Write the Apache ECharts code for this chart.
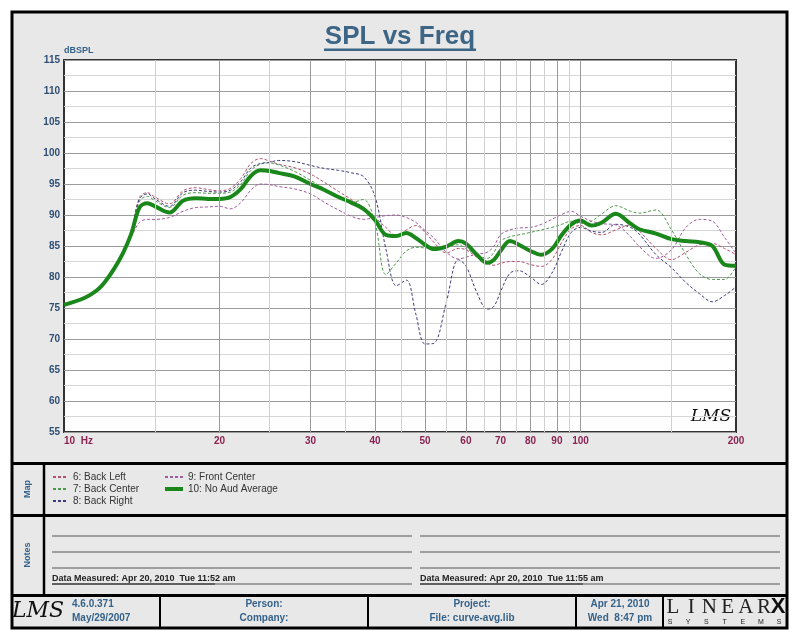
<!DOCTYPE html>
<html>
<head>
<meta charset="utf-8">
<script src="https://cdn.jsdelivr.net/npm/echarts@6/dist/echarts.min.js"></script>
<style>
html,body{margin:0;padding:0;background:#fff;}
#chart{width:800px;height:640px;}
</style>
</head>
<body>
<div id="chart"></div>
<script>
// ---- data ----
var freqs = [10, 11, 11.6, 12, 12.5, 13, 13.5, 14, 14.5, 15, 16, 17, 18, 19, 20, 21, 22, 23, 24, 25, 26, 28, 30, 32, 34, 36, 38, 40, 42, 44, 46, 48, 50, 52, 55, 58, 60, 63, 66, 68, 70, 73, 76, 80, 84, 88, 92, 96, 100, 105, 110, 117, 125, 130, 140, 150, 160, 170, 180, 190, 200];

var backLeft = [75.5, 76.7, 77.9, 79.2, 81.3, 83.8, 87.3, 92.8, 93.6, 92.9,
  91.8, 93.9, 94.4, 94.1, 93.9, 94.3, 95.9, 98.3, 99.1, 98.7,
  98.2, 97.6, 96.6, 95.2, 93.8, 92.5, 91.2, 89.6, 88.0, 86.6,
  87.6, 88.3, 87.2, 85.6, 83.9, 84.6, 84.4, 83.2, 82.2, 81.9,
  82.2, 82.5, 82.5, 82.0, 81.7, 82.8, 85.6, 87.8, 88.3, 87.2,
  86.8, 87.6, 88.4, 87.4, 84.6, 82.8, 84.0, 85.2, 85.4, 84.6,
  83.6];

var backCenter = [75.5, 76.7, 77.9, 79.2, 81.3, 83.8, 87.2, 92.2, 93.0, 92.3,
  91.2, 93.2, 93.6, 93.5, 93.5, 93.7, 95.0, 97.2, 98.2, 98.4,
  98.1, 97.0, 95.6, 94.2, 92.8, 92.0, 92.5, 88.8, 80.4, 82.3,
  84.2, 84.8, 84.7, 84.7, 84.9, 85.2, 84.6, 83.6, 83.0, 84.0,
  85.8, 86.5, 86.8, 87.2, 87.6, 88.0, 88.5, 89.0, 88.6, 89.0,
  90.2, 91.5, 90.6, 90.3, 90.8, 87.6, 83.6, 80.5, 79.6, 79.6,
  81.7];

var backRight = [75.5, 76.7, 77.9, 79.2, 81.3, 83.8, 87.3, 92.6, 93.4, 92.6,
  91.4, 93.6, 94.0, 93.8, 93.7, 94.0, 95.4, 97.6, 98.3, 98.5,
  98.8, 98.6, 98.0, 97.5, 97.2, 96.8, 96.2, 93.0, 84.5, 78.6,
  79.5, 74.0, 69.2, 69.3, 76.0, 82.8, 81.8, 77.5, 74.8, 75.3,
  77.6, 80.6, 81.0, 80.0, 78.8, 80.6, 84.2, 87.2, 88.0, 87.4,
  87.2, 88.5, 88.0, 86.9, 83.6, 81.5, 79.1, 77.3, 76.0, 77.0,
  78.4];

var frontCenter = [75.5, 76.7, 77.9, 79.2, 81.3, 83.8, 86.5, 88.8, 89.3, 89.3,
  89.6, 90.6, 91.2, 91.3, 91.4, 91.0, 92.0, 94.0, 95.0, 94.9,
  94.6, 94.2, 93.4, 92.0, 90.8, 89.8, 89.3, 89.6, 89.9, 90.0,
  89.6, 88.8, 87.5, 86.3, 84.0, 82.9, 83.2, 83.7, 84.0, 85.0,
  86.8, 87.6, 87.9, 88.0, 88.5, 89.3, 90.1, 90.6, 89.8, 89.0,
  88.6, 88.4, 86.5, 84.9, 83.0, 84.4, 88.0, 89.3, 89.0, 86.4,
  83.8];

var noAudAverage = [75.5, 76.7, 77.9, 79.2, 81.3, 83.8, 87.0, 91.2, 91.9, 91.4,
  90.4, 92.3, 92.7, 92.6, 92.6, 92.9, 94.2, 96.3, 97.2, 97.1,
  96.8, 96.2, 95.0, 94.0, 92.9, 92.0, 91.0, 89.2, 86.8, 86.6,
  87.1, 86.3, 85.2, 84.5, 84.9, 85.8, 85.4, 83.6, 82.3, 82.8,
  84.2, 85.8, 85.2, 84.2, 83.6, 84.5, 86.8, 88.5, 89.1, 88.3,
  88.8, 90.2, 88.6, 87.7, 87.0, 86.1, 85.8, 85.6, 85.0, 82.0,
  81.8];

var seriesNames = ['6: Back Left', '7: Back Center', '8: Back Right', '9: Front Center', '10: No Aud Average'];
var xTickLabels = [10, 20, 30, 40, 50, 60, 70, 80, 90, 100, 200];
var xMajorGrid = [20, 30, 40, 50, 60, 70, 80, 90, 100];
var xMinorGrid = [15, 25, 35, 45, 55, 65, 75, 85, 95, 150];
var yMin = 55, yMax = 115, yStep = 5;

function pairs(vals) { return freqs.map(function (f, i) { return [f, vals[i]]; }); }

var blue = '#35628a';
var labelFont = 'Liberation Sans';

function dashed(name, vals, color) {
  return {
    name: name, type: 'line', data: pairs(vals), symbol: 'none', smooth: 0.35,
    lineStyle: { width: 1, type: [3, 2], color: color }, itemStyle: { color: color }, z: 3
  };
}

var gridLines = xMajorGrid.map(function (v) { return { xAxis: v, lineStyle: { color: '#9a9a9a', width: 1, type: 'solid' } }; })
  .concat(xMinorGrid.map(function (v) { return { xAxis: v, lineStyle: { color: '#d0d0d0', width: 1, type: 'solid' } }; }));

// decorations
var g = [];
g.push({ type: 'rect', z: -10, shape: { x: 12, y: 12, width: 775, height: 616 }, style: { fill: '#e8e8e8', stroke: '#000', lineWidth: 3 } });
g.push({ type: 'text', style: { text: 'SPL vs Freq', x: 400, y: 37, textAlign: 'center', textVerticalAlign: 'middle', font: 'bold 26px "Liberation Sans"', fill: '#3d6585' } });
g.push({ type: 'rect', shape: { x: 324, y: 48.5, width: 152, height: 2.5 }, style: { fill: '#3d6585' } });
g.push({ type: 'text', style: { text: 'LMS', x: 711, y: 417, textAlign: 'center', textVerticalAlign: 'middle', font: 'italic 17px "DejaVu Serif"', fill: '#111' } });
function hline(y, x1, x2, w, c) { g.push({ type: 'line', shape: { x1: x1, y1: y, x2: x2, y2: y }, style: { stroke: c || '#000', lineWidth: w } }); }
function vline(x, y1, y2, w) { g.push({ type: 'line', shape: { x1: x, y1: y1, x2: x, y2: y2 }, style: { stroke: '#000', lineWidth: w } }); }
hline(463.5, 12, 787, 3);
hline(515.5, 12, 787, 3);
hline(595.5, 12, 787, 3);
vline(44, 463, 595, 2.5);
[160, 368, 576, 663].forEach(function (x) { vline(x, 595, 628, 2); });
[536, 552, 568].forEach(function (y) { hline(y, 52, 412, 1, '#555'); hline(y, 420, 780, 1, '#555'); });
hline(584, 52, 412, 1, '#555'); hline(584, 420, 780, 1, '#555');
function txt(t, x, y, font, fill, align, rot) {
  g.push({ type: 'text', x: x, y: y, rotation: rot || 0, style: { text: t, x: 0, y: 0, textAlign: align || 'left', textVerticalAlign: 'middle', font: font, fill: fill } });
}
txt('Map', 28, 489, 'bold 9px "Liberation Sans"', blue, 'center', Math.PI / 2);
txt('Notes', 28, 555, 'bold 9px "Liberation Sans"', blue, 'center', Math.PI / 2);
txt('Data Measured: Apr 20, 2010  Tue 11:52 am', 52, 579, 'bold 9px "Liberation Sans"', '#222');
txt('Data Measured: Apr 20, 2010  Tue 11:55 am', 420, 579, 'bold 9px "Liberation Sans"', '#222');
hline(584, 52, 215, 1, '#222'); hline(584, 420, 583, 1, '#222');
txt('LMS', 38, 611, 'italic 22px "DejaVu Serif"', '#111', 'center');
txt('4.6.0.371', 72, 604, 'bold 10px "Liberation Sans"', blue);
txt('May/29/2007', 72, 618, 'bold 10px "Liberation Sans"', blue);
txt('Person:', 264, 604, 'bold 10px "Liberation Sans"', blue, 'center');
txt('Company:', 264, 618, 'bold 10px "Liberation Sans"', blue, 'center');
txt('Project:', 472, 604, 'bold 10px "Liberation Sans"', blue, 'center');
txt('File: curve-avg.lib', 472, 618, 'bold 10px "Liberation Sans"', blue, 'center');
txt('Apr 21, 2010', 620, 604, 'bold 10px "Liberation Sans"', blue, 'center');
txt('Wed  8:47 pm', 620, 618, 'bold 10px "Liberation Sans"', blue, 'center');
'LINEAR'.split('').forEach(function (ch, i) { txt(ch, 673 + i * 18.2, 607, '21px "Liberation Serif"', '#222', 'center'); });
txt('X', 778, 607, 'bold 22px "Liberation Sans"', '#111', 'center');
'SYSTEMS'.split('').forEach(function (ch, i) { txt(ch, 670 + i * 18.2, 622, '7px "Liberation Sans"', '#222', 'center'); });

var legendCommon = { orient: 'vertical', top: 472, itemHeight: 10, itemGap: 2, selectedMode: false, padding: 0,
  itemStyle: { opacity: 0 }, textStyle: { fontSize: 10, fontFamily: labelFont, color: '#333' } };

var chart = echarts.init(document.getElementById('chart'));
chart.setOption({
  animation: false,
  backgroundColor: '#fff',
  graphic: g,
  grid: { left: 64, top: 60, width: 672, height: 372, show: true, backgroundColor: '#fff', borderColor: '#333', borderWidth: 2, z: 0 },
  legend: [
    Object.assign({}, legendCommon, { data: seriesNames.slice(0, 3), left: 52, itemWidth: 15 }),
    Object.assign({}, legendCommon, { data: [
      { name: seriesNames[3] },
      { name: seriesNames[4], lineStyle: { width: 4 } }
    ], left: 163, itemWidth: 18 })
  ],
  xAxis: {
    type: 'log', logBase: 10, min: 10, max: 200,
    axisLine: { show: false }, axisTick: { show: false }, splitLine: { show: false },
    axisLabel: {
      customValues: xTickLabels, showMinLabel: true, showMaxLabel: true,
      color: '#8b2252', fontWeight: 'bold', fontSize: 10, fontFamily: labelFont, margin: 4,
      alignMinLabel: 'left',
      formatter: function (v) { return v === 10 ? '10  Hz' : String(v); }
    }
  },
  yAxis: {
    type: 'value', min: yMin, max: yMax, interval: yStep,
    name: 'dBSPL', nameLocation: 'end', nameGap: 3,
    nameTextStyle: { color: blue, fontWeight: 'bold', fontSize: 9, fontFamily: labelFont, align: 'left', padding: [0, 0, 0, 0] },
    axisLine: { show: false }, axisTick: { show: false },
    axisLabel: { color: '#2f4f75', fontWeight: 'bold', fontSize: 10, fontFamily: labelFont, margin: 4 },
    splitLine: { show: true, lineStyle: { color: '#9c9c9c', width: 1 } },
    minorTick: { show: false, splitNumber: 2 },
    minorSplitLine: { show: true, lineStyle: { color: '#d6d6d6', width: 1 } }
  },
  series: [
    { name: 'grid', type: 'line', data: [], z: 1, silent: true,
      markLine: { silent: true, symbol: ['none', 'none'], label: { show: false }, animation: false, data: gridLines } },
    dashed(seriesNames[0], backLeft, '#b4506e'),
    dashed(seriesNames[1], backCenter, '#4a9a4a'),
    dashed(seriesNames[2], backRight, '#3c3c7c'),
    dashed(seriesNames[3], frontCenter, '#a05aa0'),
    { name: seriesNames[4], type: 'line', data: pairs(noAudAverage), symbol: 'none', smooth: 0.35,
      lineStyle: { width: 4, color: '#1a871a' }, itemStyle: { color: '#1a871a' }, z: 4 }
  ]
});
</script>
</body>
</html>
